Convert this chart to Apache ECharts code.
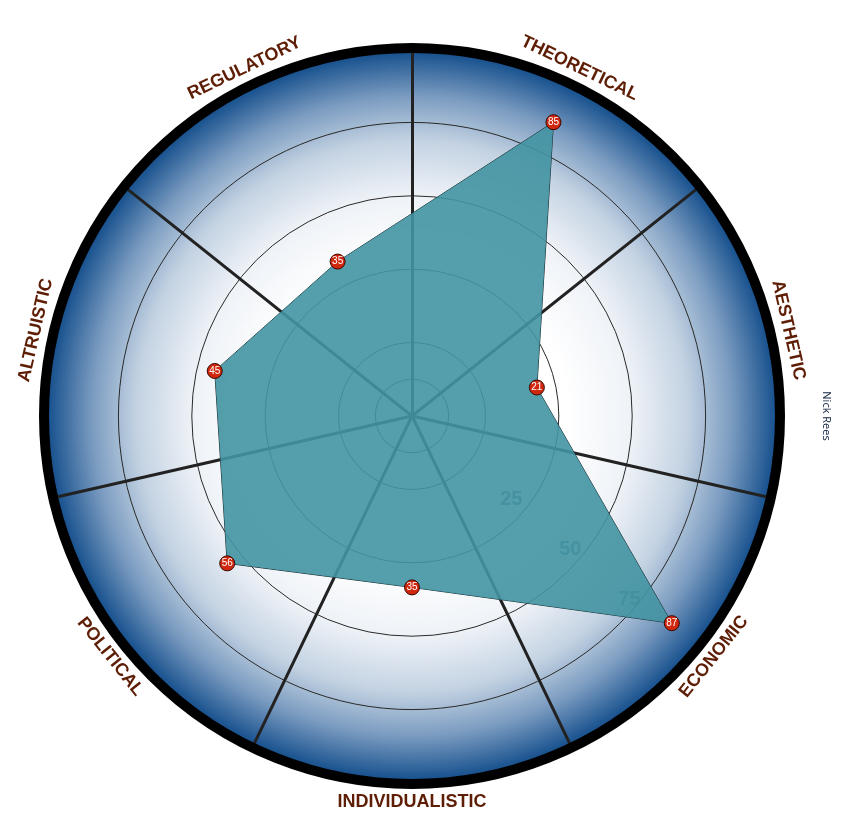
<!DOCTYPE html>
<html>
<head>
<meta charset="utf-8">
<script src="https://cdn.jsdelivr.net/npm/echarts@6/dist/echarts.min.js"></script>
<style>html,body{margin:0;padding:0;background:#fff;}#main{width:843px;height:833px;}</style>
</head>
<body>
<div id="main"></div>
<script>
// Categories in clockwise order starting just right of 12 o'clock
const categories = ['THEORETICAL', 'AESTHETIC', 'ECONOMIC', 'INDIVIDUALISTIC', 'POLITICAL', 'ALTRUISTIC', 'REGULATORY'];
const values = [85, 21, 87, 35, 56, 45, 35];
const tickValues = [25, 50, 75];
const authorName = 'Nick Rees';

const CX = 412, CY = 416;
const N = categories.length;
const step = 360 / N;
const DATA_MIN = -20.4, DATA_MAX = 100;

// ECharts radar goes counter-clockwise: reorder
const ccwIdx = [0];
for (let i = N - 1; i >= 1; i--) ccwIdx.push(i);
const indicators = ccwIdx.map(i => ({ name: categories[i], min: DATA_MIN, max: DATA_MAX }));
const ccwValues = ccwIdx.map(i => values[i]);
const dummy = categories.map(() => ({ name: '', min: 0, max: 100 }));

const chart = echarts.init(document.getElementById('main'), null, { renderer: 'canvas' });

// Rotated category names around the rim
const nameGraphics = categories.map((name, i) => {
  const th = (step / 2 + step * i);
  const rad = th * Math.PI / 180;
  const r = 386;
  const x = CX + r * Math.sin(rad);
  const y = CY - r * Math.cos(rad);
  let rot = (th > 90 && th < 270) ? th - 180 : th;
  return {
    type: 'text', x: x, y: y, rotation: -rot * Math.PI / 180, z: 50,
    style: {
      text: name, fill: '#5e1d05', font: 'bold 18px "Liberation Sans", Arial, sans-serif',
      align: 'center', verticalAlign: 'middle'
    }
  };
});

const option = {
  animation: false,
  backgroundColor: '#ffffff',
  graphic: [
    {
      type: 'circle', shape: { cx: CX, cy: CY, r: 368 }, z: -5, silent: true,
      style: {
        fill: {
          type: 'radial', x: 0.5, y: 0.5, r: 0.5,
          colorStops: [
            { offset: 0, color: '#ffffff' },
            { offset: 0.42, color: '#ffffff' },
            { offset: 0.6, color: '#eef2f7' },
            { offset: 0.75, color: '#c3d2e2' },
            { offset: 0.87, color: '#7a9bc0' },
            { offset: 1, color: '#0e4a89' }
          ]
        }
      }
    },
    {
      type: 'circle', shape: { cx: CX, cy: CY, r: 368 }, z: 60, silent: true,
      style: { fill: 'none', stroke: '#000000', lineWidth: 10 }
    },
    {
      type: 'text', x: 826, y: 416, rotation: -Math.PI / 2, z: 50,
      style: { text: authorName, fill: '#0b1d3a', font: '11px "Open Sans", "Noto Sans", sans-serif', align: 'center', verticalAlign: 'middle' }
    }
  ].concat(nameGraphics),
  radar: [
    { // rings
      center: [CX, CY], radius: 367, startAngle: 90, splitNumber: 5, shape: 'circle',
      indicator: dummy, axisName: { show: false },
      axisLine: { show: false }, axisTick: { show: false }, axisLabel: { show: false },
      splitArea: { show: false },
      splitLine: { show: true, lineStyle: { color: '#2a2a2a', width: 1 } }
    },
    { // inner small ring
      center: [CX, CY], radius: 36.7, startAngle: 90, splitNumber: 1, shape: 'circle',
      indicator: dummy, axisName: { show: false },
      axisLine: { show: false }, axisTick: { show: false }, axisLabel: { show: false },
      splitArea: { show: false },
      splitLine: { show: true, lineStyle: { color: '#2a2a2a', width: 1 } }
    },
    { // spokes at sector boundaries
      center: [CX, CY], radius: 370, startAngle: 90, splitNumber: 1, shape: 'circle',
      indicator: dummy, axisName: { show: false },
      axisLine: { show: true, lineStyle: { color: '#222222', width: 3 } },
      axisTick: { show: false }, axisLabel: { show: false },
      splitArea: { show: false }, splitLine: { show: false }
    },
    { // data
      center: [CX, CY], radius: 372.5, startAngle: 90 - step / 2, splitNumber: 5, shape: 'circle',
      indicator: indicators, axisName: { show: false },
      axisLine: { show: false }, axisTick: { show: false }, axisLabel: { show: false },
      splitArea: { show: false }, splitLine: { show: false }
    }
  ],
  polar: { center: [CX, CY], radius: 372.5 },
  angleAxis: { type: 'value', min: 0, max: 360, startAngle: 90, clockwise: true, show: false },
  radiusAxis: { type: 'value', min: DATA_MIN, max: DATA_MAX, show: false },
  series: [
    {
      type: 'scatter', coordinateSystem: 'polar', z: 1, silent: true,
      symbolSize: 0,
      data: tickValues.map(v => [v, 130.2]),
      label: {
        show: true, position: 'inside', offset: [-8, -7],
        formatter: p => String(p.value[0]),
        color: '#2b5a82', fontSize: 20, fontWeight: 'bold', fontFamily: 'Liberation Sans, Arial, sans-serif'
      }
    },
    {
      type: 'radar', radarIndex: 3, z: 5, silent: true,
      symbol: 'circle', symbolSize: 15,
      lineStyle: { color: '#1b2b2e', width: 1 },
      areaStyle: { color: 'rgba(66,148,162,0.9)', opacity: 1 },
      itemStyle: { color: '#d0280f', borderColor: '#3a0800', borderWidth: 1 },
      label: {
        show: true, position: 'inside', color: '#ffffff', fontSize: 10,
        fontFamily: 'Liberation Sans, Arial, sans-serif'
      },
      data: [{ value: ccwValues }]
    }
  ]
};
chart.setOption(option);
</script>
</body>
</html>
